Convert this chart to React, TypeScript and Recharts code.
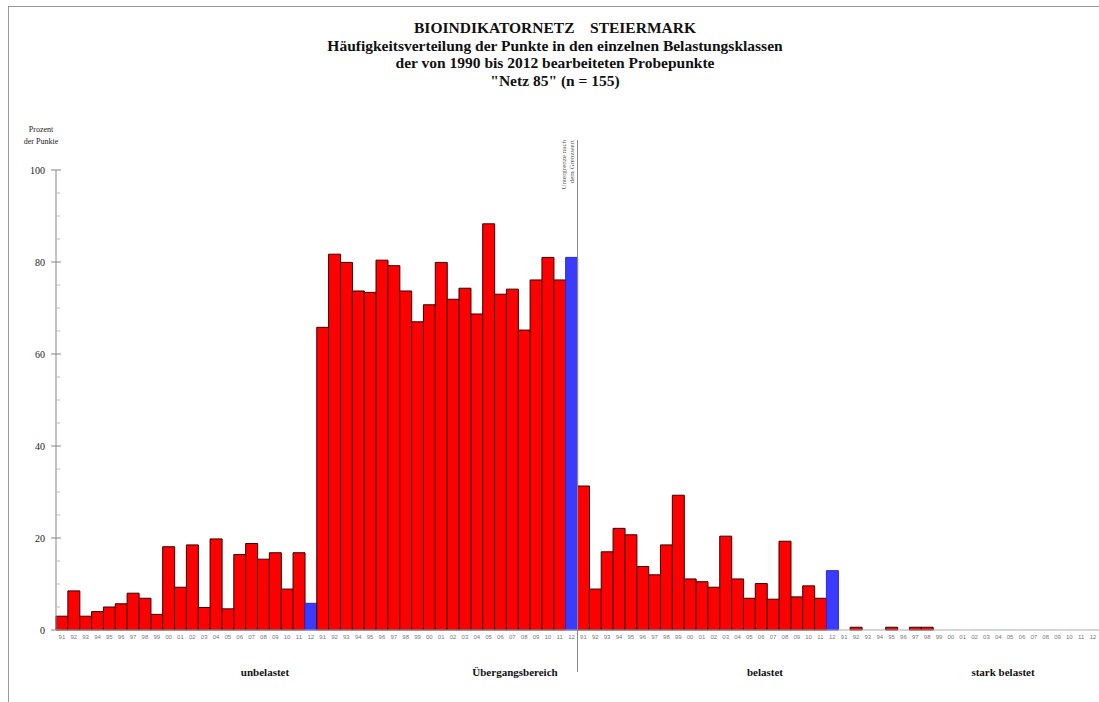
import { Bar, BarChart, Cell, XAxis, YAxis } from "recharts";

const years = ["91", "92", "93", "94", "95", "96", "97", "98", "99", "00", "01", "02", "03", "04", "05", "06", "07", "08", "09", "10", "11", "12"];

const groups = ["unbelastet", "Übergangsbereich", "belastet", "stark belastet"];

const unbelastet = [3, 8.5, 3, 4, 5, 5.7, 8, 6.9, 3.4, 18.1, 9.3, 18.5, 4.9, 19.8, 4.6, 16.4, 18.8, 15.4, 16.8, 8.9, 16.8, 5.8];
const uebergang = [65.8, 81.7, 79.9, 73.7, 73.4, 80.4, 79.2, 73.7, 67, 70.7, 79.9, 71.9, 74.3, 68.7, 88.3, 73, 74.1, 65.2, 76.1, 81, 76.1, 81];
const belastet = [31.3, 8.9, 17, 22.1, 20.7, 13.8, 12, 18.5, 29.3, 11.1, 10.5, 9.3, 20.4, 11.1, 6.9, 10.1, 6.7, 19.3, 7.2, 9.6, 6.9, 12.9];
const starkBelastet = [0, 0.6, 0, 0, 0.6, 0, 0.6, 0.6, 0, 0, 0, 0, 0, 0, 0, 0, 0, 0, 0, 0, 0, 0];

const yTicks = [0, 5, 10, 15, 20, 25, 30, 35, 40, 45, 50, 55, 60, 65, 70, 75, 80, 85, 90, 95, 100];

const series = [unbelastet, uebergang, belastet, starkBelastet];
const data = series.flatMap((vals, g) =>
    vals.map((v, i) => ({ key: `${g}-${years[i]}`, year: years[i], value: v, latest: i === years.length - 1 }))
);

const serif = '"Liberation Serif", "Times New Roman", serif';

function YTick({ x, y, payload }: any) {
    const v = payload.value as number;
    if (v % 20 === 0) {
        return (
            <g>
                <line x1={x - 5} x2={x + 5} y1={y} y2={y} stroke="#888" />
                <text x={x - 11} y={y + 3.5} textAnchor="end" fontSize={10} fontFamily={serif} fill="#222">
                    {v}
                </text>
            </g>
        );
    }
    return <line x1={x} x2={x + 4} y1={y} y2={y} stroke="#bbb" />;
}

function XTick({ x, y, payload }: any) {
    const year = String(payload.value).split("-")[1];
    return (
        <text x={x} y={y + 9} textAnchor="middle" fontSize={6} fontFamily="Arial, sans-serif" fill="#777">
            {year}
        </text>
    );
}

const groupLabelX = [265, 515, 765, 1003];

export default function App() {
    return (
        <div style={{ position: "absolute", left: 0, top: 0, width: 1099, height: 702, background: "#fff", overflow: "hidden" }}>
            <div style={{ position: "absolute", left: 8, top: 6, right: 0, bottom: 0, borderTop: "1px solid #999", borderLeft: "1px solid #999" }} />
            <div
                style={{
                    position: "absolute",
                    left: 0,
                    width: 1110,
                    top: 19,
                    textAlign: "center",
                    fontFamily: serif,
                    fontWeight: "bold",
                    fontSize: 15.5,
                    lineHeight: "17.7px",
                    color: "#111",
                    whiteSpace: "pre",
                }}
            >
                {"BIOINDIKATORNETZ    STEIERMARK\nHäufigkeitsverteilung der Punkte in den einzelnen Belastungsklassen\nder von 1990 bis 2012 bearbeiteten Probepunkte\n\"Netz 85\" (n = 155)"}
            </div>
            <div style={{ position: "absolute", left: 18, width: 46, top: 124, textAlign: "center", fontFamily: serif, fontSize: 8, lineHeight: "12px", color: "#222" }}>
                Prozent
                <br />
                der Punkte
            </div>
            <BarChart
                width={1099}
                height={702}
                data={data}
                margin={{ top: 170, right: 0, bottom: 52, left: 6 }}
                barCategoryGap={0}
                style={{ position: "absolute", left: 0, top: 0 }}
            >
                <XAxis
                    dataKey="key"
                    interval={0}
                    height={20}
                    tick={<XTick />}
                    tickSize={0}
                    tickMargin={0}
                    tickLine={false}
                    axisLine={{ stroke: "#aaa" }}
                />
                <YAxis
                    width={50}
                    domain={[0, 100]}
                    ticks={yTicks}
                    interval={0}
                    tick={<YTick />}
                    tickSize={0}
                    tickMargin={0}
                    tickLine={false}
                    axisLine={{ stroke: "#888" }}
                />
                <Bar dataKey="value" isAnimationActive={false} stroke="#3a0000" strokeWidth={1}>
                    {data.map((d) => (
                        <Cell key={d.key} fill={d.latest ? "#3b3bff" : "#ff0000"} stroke={d.latest ? "#2a2acc" : "#3a0000"} />
                    ))}
                </Bar>
            </BarChart>
            <div style={{ position: "absolute", left: 577, top: 140, width: 1, height: 532, background: "#888" }} />
            <div
                style={{
                    position: "absolute",
                    left: 561,
                    top: 140,
                    width: 76,
                    height: 16,
                    transformOrigin: "0 0",
                    transform: "translate(0px, 76px) rotate(-90deg)",
                    fontFamily: serif,
                    fontSize: 7,
                    lineHeight: "7.5px",
                    color: "#555",
                    textAlign: "right",
                }}
            >
                Untergrenze nach
                <br />
                dem Grenzwert
            </div>
            {groups.map((g, i) => (
                <div
                    key={g}
                    style={{
                        position: "absolute",
                        left: groupLabelX[i] - 80,
                        width: 160,
                        top: 666,
                        textAlign: "center",
                        fontFamily: serif,
                        fontWeight: "bold",
                        fontSize: 11,
                        color: "#111",
                    }}
                >
                    {g}
                </div>
            ))}
        </div>
    );
}
